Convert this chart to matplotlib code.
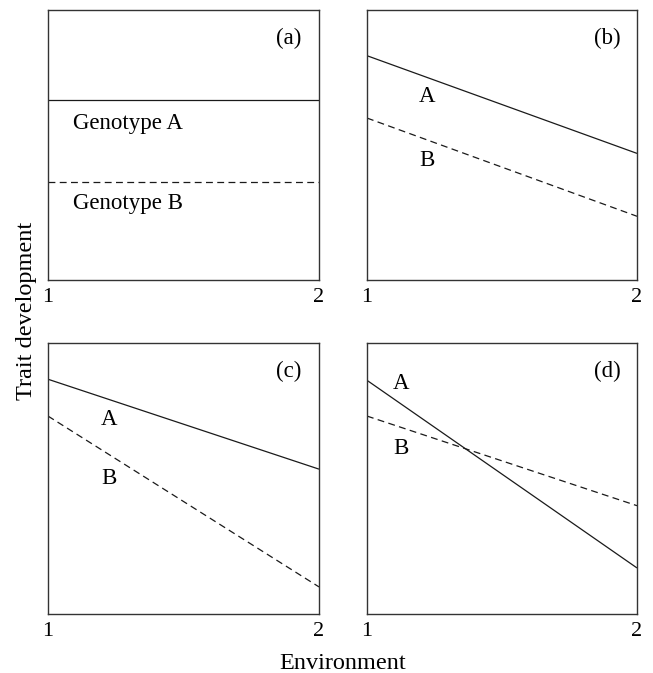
import matplotlib
matplotlib.use("Agg")
import matplotlib.pyplot as plt

plt.rcParams['font.family'] = ['Liberation Serif', 'DejaVu Serif']

# DATA (trait value, axes scaled 0..1)
env = [1, 2]
panel_labels = ["(a)", "(b)", "(c)", "(d)"]
geno_A = [[0.667, 0.667], [0.831, 0.469], [0.867, 0.535], [0.863, 0.170]]
geno_B = [[0.363, 0.363], [0.600, 0.236], [0.731, 0.100], [0.731, 0.400]]
text_A = ["Genotype A", "A", "A", "A"]
text_B = ["Genotype B", "B", "B", "B"]
# label positions (x, y) in data coords
pos_A = [(1.092, 0.58), (1.222, 0.68), (1.225, 0.72), (1.126, 0.852)]
pos_B = [(1.092, 0.285), (1.222, 0.443), (1.225, 0.50), (1.126, 0.613)]
ha_txt = ["left", "center", "center", "center"]

fig = plt.figure(figsize=(6.53, 6.73), dpi=100)

# axes boxes [left, bottom, width, height] in figure fraction
boxes = [
    [0.0735, 0.584, 0.415, 0.401],
    [0.562, 0.584, 0.4135, 0.401],
    [0.0735, 0.0877, 0.415, 0.4023],
    [0.562, 0.0877, 0.4135, 0.4023],
]

line_col = "#1a1a1a"
for i in range(4):
    ax = fig.add_axes(boxes[i])
    ax.plot(env, geno_A[i], color=line_col, lw=0.9, solid_capstyle="butt")
    ax.plot(env, geno_B[i], color=line_col, lw=0.9, linestyle=(0, (5.5, 3.5)))
    ax.set_xlim(1, 2)
    ax.set_ylim(0, 1)
    ax.set_yticks([])
    ax.set_xticks([1, 2])
    ax.set_xticklabels(["1", "2"])
    ax.tick_params(axis="x", length=0, pad=6, labelsize=16)
    for sp in ax.spines.values():
        sp.set_color("#333333")
        sp.set_linewidth(1.0)
    ax.text(pos_A[i][0], pos_A[i][1], text_A[i], ha=ha_txt[i], va="center", fontsize=16.5)
    ax.text(pos_B[i][0], pos_B[i][1], text_B[i], ha=ha_txt[i], va="center", fontsize=16.5)
    ax.text(0.89, 0.895, panel_labels[i], transform=ax.transAxes,
            ha="center", va="center", fontsize=16.5)

fig.text(0.524, 0.014, "Environment", ha="center", va="center", fontsize=17.5)
fig.text(0.04, 0.538, "Trait development", ha="center", va="center",
         rotation=90, fontsize=17.5)

fig.savefig("out.png", dpi=100)
